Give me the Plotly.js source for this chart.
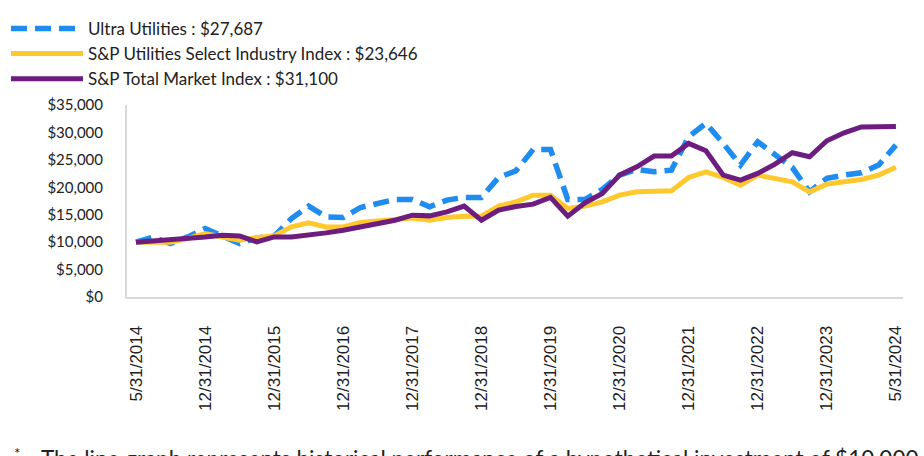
<!DOCTYPE html>
<html>
<head>
<meta charset="utf-8">
<script src="https://cdn.plot.ly/plotly-3.0.1.min.js"></script>
<style>
html,body{margin:0;padding:0;background:#fff;}
#chart{width:924px;height:456px;}
</style>
</head>
<body>
<div id="chart"></div>
<script>
// Tick labels shown on the x axis (every 4th data point)
const tickLabels = ["5/31/2014","12/31/2014","12/31/2015","12/31/2016","12/31/2017","12/31/2018",
  "12/31/2019","12/31/2020","12/31/2021","12/31/2022","12/31/2023","5/31/2024"];

// Series names
const seriesNames = ["Ultra Utilities : $27,687",
  "S&P Utilities Select Industry Index : $23,646",
  "S&P Total Market Index : $31,100"];

// Growth of $10,000 (45 points)
const ultraUtilities = [10000,10900,9750,10950,12480,11080,9740,10780,11080,14300,
  16560,14610,14490,16320,17050,17780,17780,16440,17660,18150,
  18150,21800,23000,26910,26910,17780,17780,19600,22220,23260,
  22830,23130,29220,31660,28000,24050,28300,25870,23600,19170,
  21620,22220,22640,24050,27687];

const spUtilities = [10000,10100,10000,10660,11570,10950,10350,10840,11140,12780,
  13510,12780,12780,13580,13820,14130,14420,14000,14490,14730,
  14730,16560,17350,18570,18570,16140,16560,17350,18570,19170,
  19170,19350,21800,22820,21800,20390,22220,21620,21000,19170,
  20580,21000,21430,22220,23646];

const spTotalMarket = [10000,10200,10480,10660,10950,11260,11140,10040,10950,10950,
  11260,11690,12180,12780,13270,14000,14920,14790,15520,16560,
  14000,15830,16500,16930,18150,14730,17160,18880,22220,23740,
  25690,25690,28000,26660,22220,21310,22530,24230,26300,25560,
  28480,29940,31000,31100,31100];

const footnote = 'The line graph represents historical performance of a hypothetical investment of $10,000';

const xIdx = ultraUtilities.map((_, i) => i);
const tickVals = tickLabels.map((_, i) => i * 4);

const traces = [
  {x: xIdx, y: ultraUtilities, name: seriesNames[0], type: 'scatter', mode: 'lines',
   line: {color: '#1E8CF0', width: 5.5, dash: '16px,8px'}},
  {x: xIdx, y: spUtilities, name: seriesNames[1], type: 'scatter', mode: 'lines',
   line: {color: '#FFC82C', width: 5}},
  {x: xIdx, y: spTotalMarket, name: seriesNames[2], type: 'scatter', mode: 'lines',
   line: {color: '#6C1D7F', width: 5}}
];

const px2x = p => (p - 127) / 776;
const px2y = p => (296.7 - p) / 191.7;

const layout = {
  width: 924, height: 456,
  margin: {l: 127, r: 21, t: 105, b: 159.3, autoexpand: false},
  paper_bgcolor: '#fff', plot_bgcolor: '#fff',
  font: {family: 'Lato, "Open Sans", sans-serif', color: '#222'},
  showlegend: true,
  legend: {x: px2x(6), xanchor: 'left', y: 1.49, yanchor: 'top',
    font: {family: 'Lato, sans-serif', size: 17, color: '#222'},
    bgcolor: 'rgba(0,0,0,0)', itemwidth: 72, tracegroupgap: 0, traceorder: 'normal'},
  xaxis: {
    automargin: false,
    range: [-0.52, 44.41],
    tickmode: 'array', tickvals: tickVals, ticktext: tickLabels,
    tickangle: -90,
    tickfont: {family: '"Liberation Sans", Arial, sans-serif', size: 17, color: '#222'},
    ticks: 'outside', ticklen: 20, tickcolor: 'rgba(0,0,0,0)',
    showgrid: false, zeroline: false,
    showline: true, linecolor: '#D9D9D9', linewidth: 2
  },
  yaxis: {
    automargin: false,
    range: [0, 35000], tickmode: 'linear', tick0: 0, dtick: 5000,
    tickprefix: '$', tickformat: ',d',
    tickfont: {family: 'Lato, sans-serif', size: 15, color: '#222'},
    ticks: 'outside', ticklen: 19, tickcolor: 'rgba(0,0,0,0)',
    showgrid: false, zeroline: false,
    showline: true, linecolor: '#D9D9D9', linewidth: 2
  },
  annotations: [
    {xref: 'paper', yref: 'paper', x: px2x(12), y: px2y(441),
     xanchor: 'left', yanchor: 'top', showarrow: false, text: '*',
     font: {family: 'Lato, sans-serif', size: 15, color: '#222'}},
    {xref: 'paper', yref: 'paper', x: px2x(39), y: px2y(442),
     xanchor: 'left', yanchor: 'top', showarrow: false,
     text: footnote,
     font: {family: 'Lato, sans-serif', size: 22.5, color: '#222'}}
  ]
};

Plotly.newPlot('chart', traces, layout, {displayModeBar: false, staticPlot: true});
</script>
</body>
</html>
